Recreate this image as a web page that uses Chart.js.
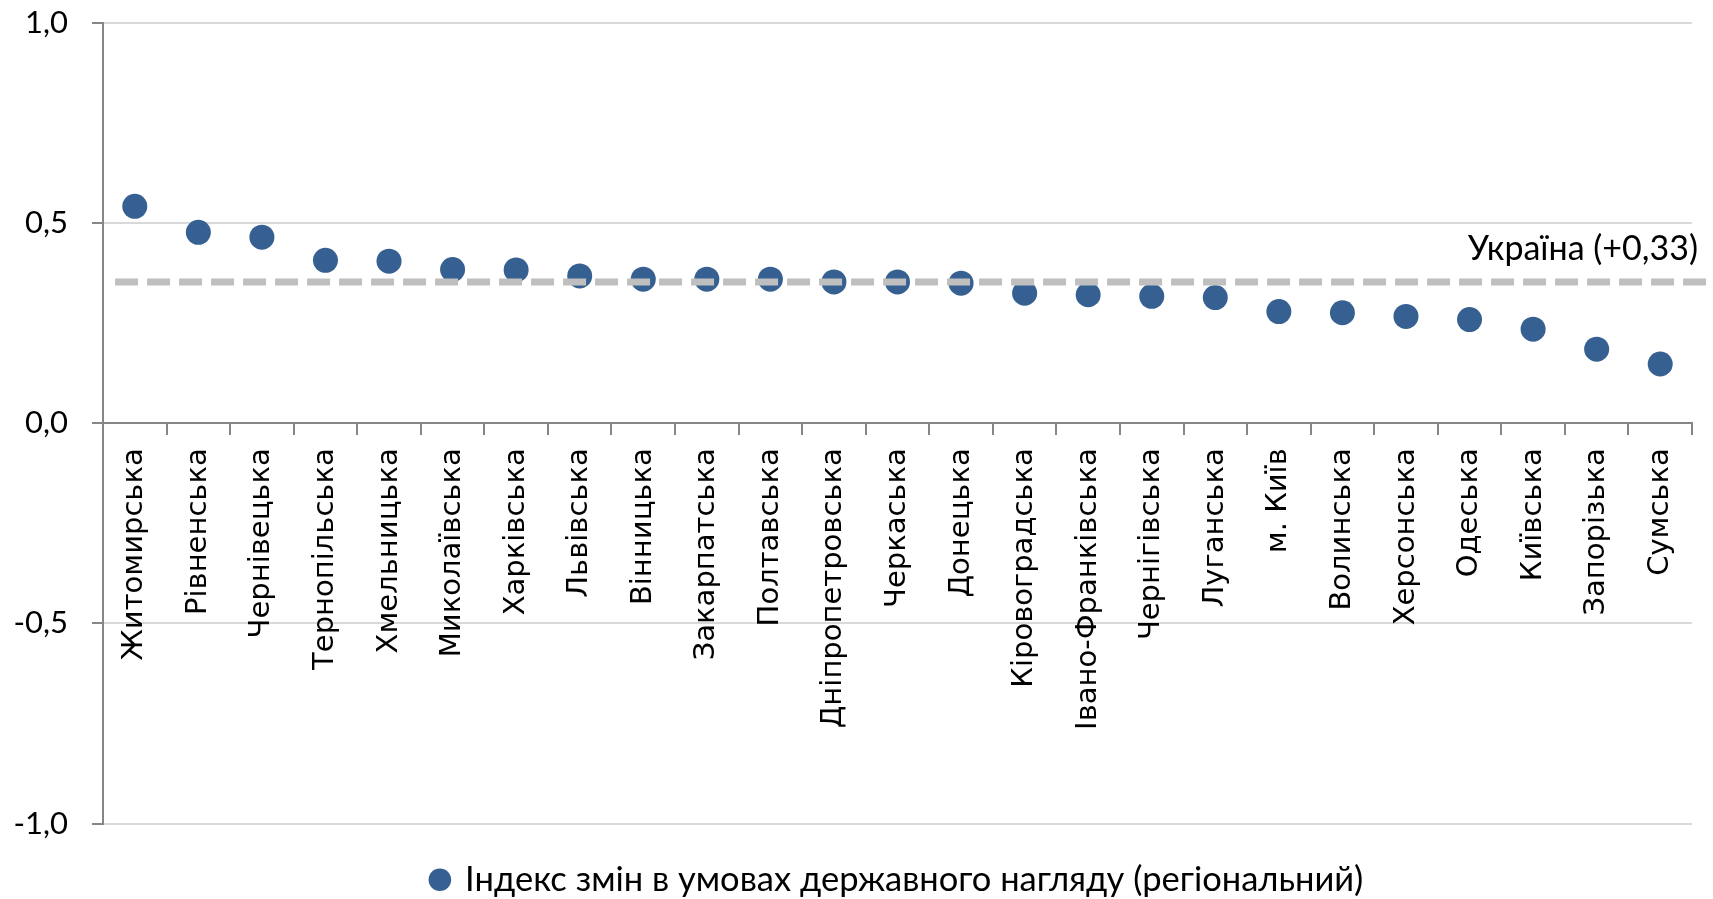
<!DOCTYPE html>
<html>
<head>
<meta charset="utf-8">
<script src="https://cdn.jsdelivr.net/npm/chart.js@4/dist/chart.umd.min.js"></script>
<style>
  html, body { margin: 0; padding: 0; background: #ffffff; overflow: hidden; }
  #wrap { width: 1713px; height: 907px; position: relative; }
</style>
</head>
<body>
<div id="wrap"><canvas id="c"></canvas></div>
<script>
const categories = ['Житомирська','Рівненська','Чернівецька','Тернопільська','Хмельницька','Миколаївська','Харківська','Львівська','Вінницька','Закарпатська','Полтавська','Дніпропетровська','Черкаська','Донецька','Кіровоградська','Івано-Франківська','Чернігівська','Луганська','м. Київ','Волинська','Херсонська','Одеська','Київська','Запорізька','Сумська'];
const indexValues = [0.542,0.477,0.465,0.407,0.405,0.384,0.383,0.368,0.360,0.360,0.360,0.353,0.353,0.350,0.325,0.321,0.317,0.314,0.279,0.276,0.267,0.259,0.235,0.185,0.148];
const seriesName = 'Індекс змін в умовах державного нагляду (регіональний)';
const ukraineLevel = 0.353;
const ukraineLabel = 'Україна (+0,33)';
const yTicks = [-1.0, -0.5, 0.0, 0.5, 1.0];

const NARROW = "Lato, 'Open Sans', sans-serif";
const WIDE = "'DejaVu Sans', Verdana, sans-serif";

const labelPlugin = {
  id: 'ukraineLabel',
  afterDatasetsDraw(chart) {
    const ctx = chart.ctx;
    const y = chart.scales.y.getPixelForValue(ukraineLevel);
    ctx.save();
    ctx.font = "34px " + NARROW;
    ctx.fillStyle = '#000';
    ctx.textAlign = 'right';
    ctx.textBaseline = 'middle';
    ctx.fillText(ukraineLabel, chart.chartArea.right + 6, y - 33);
    ctx.restore();
  }
};

new Chart(document.getElementById('c'), {
  type: 'line',
  data: {
    labels: categories,
    datasets: [
      {
        label: 'Україна',
        data: [{x: -0.31, y: ukraineLevel}, {x: 24.72, y: ukraineLevel}],
        xAxisID: 'x2',
        borderColor: '#BFBFBF',
        borderWidth: 7,
        borderDash: [23, 9],
        pointRadius: 0,
        fill: false,
        clip: false,
        order: 0
      },
      {
        label: seriesName,
        data: indexValues,
        xAxisID: 'x',
        showLine: false,
        pointRadius: 12.5,
        pointHoverRadius: 12.5,
        pointBackgroundColor: '#376092',
        pointBorderColor: '#376092',
        pointBorderWidth: 0,
        backgroundColor: '#376092',
        borderColor: '#376092',
        order: 1
      }
    ]
  },
  options: {
    responsive: true,
    maintainAspectRatio: false,
    animation: false,
    layout: { padding: { top: 23, right: 21, left: 0, bottom: 0 } },
    plugins: {
      legend: {
        position: 'bottom',
        fullSize: false,
        title: { display: true, text: ' ', font: { size: 10 }, padding: { top: 13, bottom: 0 } },
        labels: {
          filter: (item) => item.datasetIndex === 1,
          usePointStyle: true,
          pointStyle: 'circle',
          boxWidth: 16,
          boxHeight: 16,
          padding: 14,
          color: '#000',
          font: { size: 34.5, family: NARROW }
        }
      },
      tooltip: { enabled: false }
    },
    scales: {
      x: {
        type: 'category',
        position: { y: 0 },
        offset: true,
        grid: { offset: true, drawOnChartArea: false, tickLength: 11, color: '#868686', tickColor: '#868686', lineWidth: 2 },
        border: { color: '#868686', width: 2 },
        ticks: { autoSkip: false, minRotation: 90, maxRotation: 90, padding: 14, color: '#000', font: { size: 29, family: WIDE } }
      },
      x2: {
        type: 'linear',
        display: false,
        min: -0.5,
        max: categories.length - 0.5
      },
      y: {
        min: -1,
        max: 1,
        afterFit: (s) => { s.width = 103; s.paddingTop = 0; s.paddingBottom = 0; },
        afterBuildTicks: (s) => { s.ticks = yTicks.map(v => ({ value: v })); },
        grid: { color: '#D9D9D9', lineWidth: 2, tickLength: 11, tickColor: '#868686' },
        border: { color: '#868686', width: 2 },
        ticks: {
          padding: 24,
          color: '#000',
          font: { size: 31, family: NARROW },
          callback: (v) => Number(v).toFixed(1).replace('.', ',')
        }
      }
    }
  },
  plugins: [labelPlugin]
});
</script>
</body>
</html>
